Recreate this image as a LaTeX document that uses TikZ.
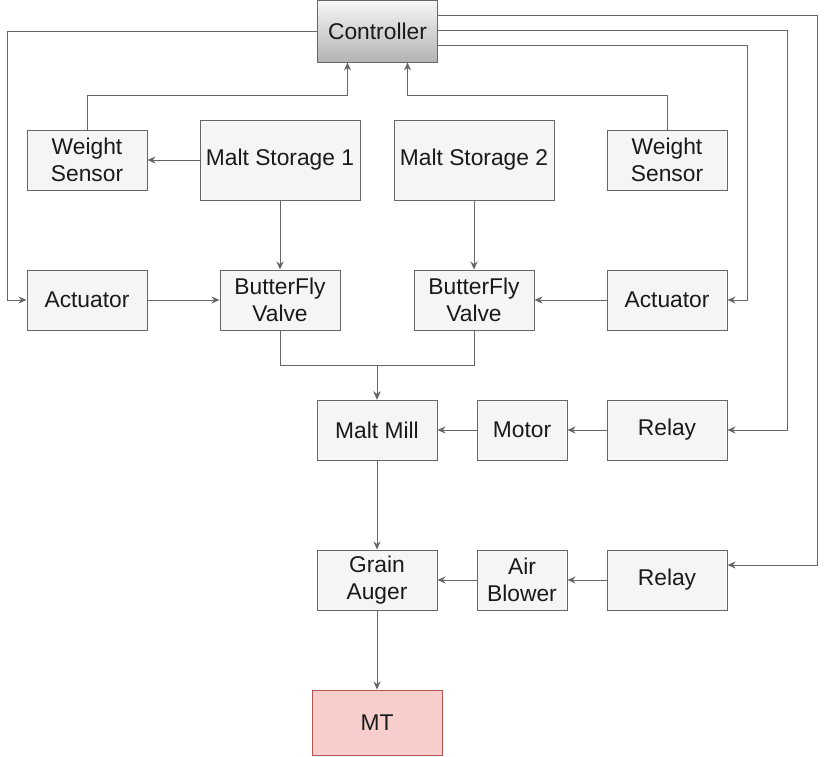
\documentclass[tikz,border=0pt]{standalone}
\usepackage{fontspec}
\setmainfont{Liberation Sans}
\usetikzlibrary{calc,arrows.meta}
\definecolor{boxfill}{HTML}{F5F5F5}
\definecolor{boxline}{HTML}{666666}
\definecolor{txt}{HTML}{1A1A1A}
\definecolor{mtfill}{HTML}{F8CECC}
\definecolor{mtline}{HTML}{B85450}
\definecolor{ctop}{HTML}{F7F7F7}
\definecolor{cbot}{HTML}{B3B3B3}
\tikzset{
  box/.style={draw=boxline, fill=boxfill, line width=1pt, rectangle, align=center,
    inner sep=0pt, text=txt, font=\fontsize{22.8}{27}\selectfont,
    minimum width=120pt, minimum height=60pt},
  conn/.style={draw=boxline, line width=1pt},
  arr/.style={conn, -{Stealth[length=8pt,width=7pt]}}
}
\begin{document}
\begin{tikzpicture}[x=1pt,y=-1pt]
\useasboundingbox (0,0) rectangle (826,756);
% nodes
\node[box, top color=ctop, bottom color=cbot, minimum height=62pt] (ctrl) at (377.5,31) {Controller};
\node[box] (ws1) at (87,160) {Weight\\Sensor};
\node[box, minimum width=160pt, minimum height=80pt] (ms1) at (280,160) {Malt Storage 1};
\node[box, minimum width=160pt, minimum height=80pt] (ms2) at (474,160) {Malt Storage 2};
\node[box] (ws2) at (667,160) {Weight\\Sensor};
\node[box] (act1) at (87,300) {Actuator};
\node[box] (bv1) at (280,300) {ButterFly\\Valve};
\node[box] (bv2) at (474,300) {ButterFly\\Valve};
\node[box] (act2) at (667,300) {Actuator};
\node[box] (mill) at (377,430) {Malt Mill};
\node[box, minimum width=90pt] (motor) at (522,430) {Motor};
\node[box] (r1) at (667,430) {Relay};
\node[box] (auger) at (377,580) {Grain\\Auger};
\node[box, minimum width=90pt] (blower) at (522,580) {Air\\Blower};
\node[box] (r2) at (667,580) {Relay};
\node[box, draw=mtline, fill=mtfill, minimum width=130pt, minimum height=65pt] (mt) at (377,722.5) {MT};
% connectors
\draw[arr] (ctrl.west) -| ($(act1.west)+(-19,0)$) -- (act1.west);
\draw[arr] (ws1.north) -- ++(0,-34) -| ($(ctrl.south)+(-30,0)$);
\draw[arr] (ws2.north) -- ++(0,-34) -| ($(ctrl.south)+(30,0)$);
\draw[arr] (ms1.west) -- (ws1.east);
\draw[arr] (ms1.south) -- (bv1.north);
\draw[arr] (ms2.south) -- (bv2.north);
\draw[arr] (act1.east) -- (bv1.west);
\draw[arr] (act2.west) -- (bv2.east);
\draw[arr] (bv1.south) -- ++(0,35) -| (mill.north);
\draw[arr] (bv2.south) -- ++(0,35) -| (mill.north);
\draw[arr] ($(ctrl.east)+(0,-16)$) -| ($(r2.east)+(90,-15)$) -- ($(r2.east)+(0,-15)$);
\draw[arr] ($(ctrl.east)+(0,-1)$) -| ($(r1.east)+(60,0)$) -- (r1.east);
\draw[arr] ($(ctrl.east)+(0,14)$) -| ($(act2.east)+(20,0)$) -- (act2.east);
\draw[arr] (r1.west) -- (motor.east);
\draw[arr] (motor.west) -- (mill.east);
\draw[arr] (r2.west) -- (blower.east);
\draw[arr] (blower.west) -- (auger.east);
\draw[arr] (mill.south) -- (auger.north);
\draw[arr] (auger.south) -- (mt.north);
\end{tikzpicture}
\end{document}
